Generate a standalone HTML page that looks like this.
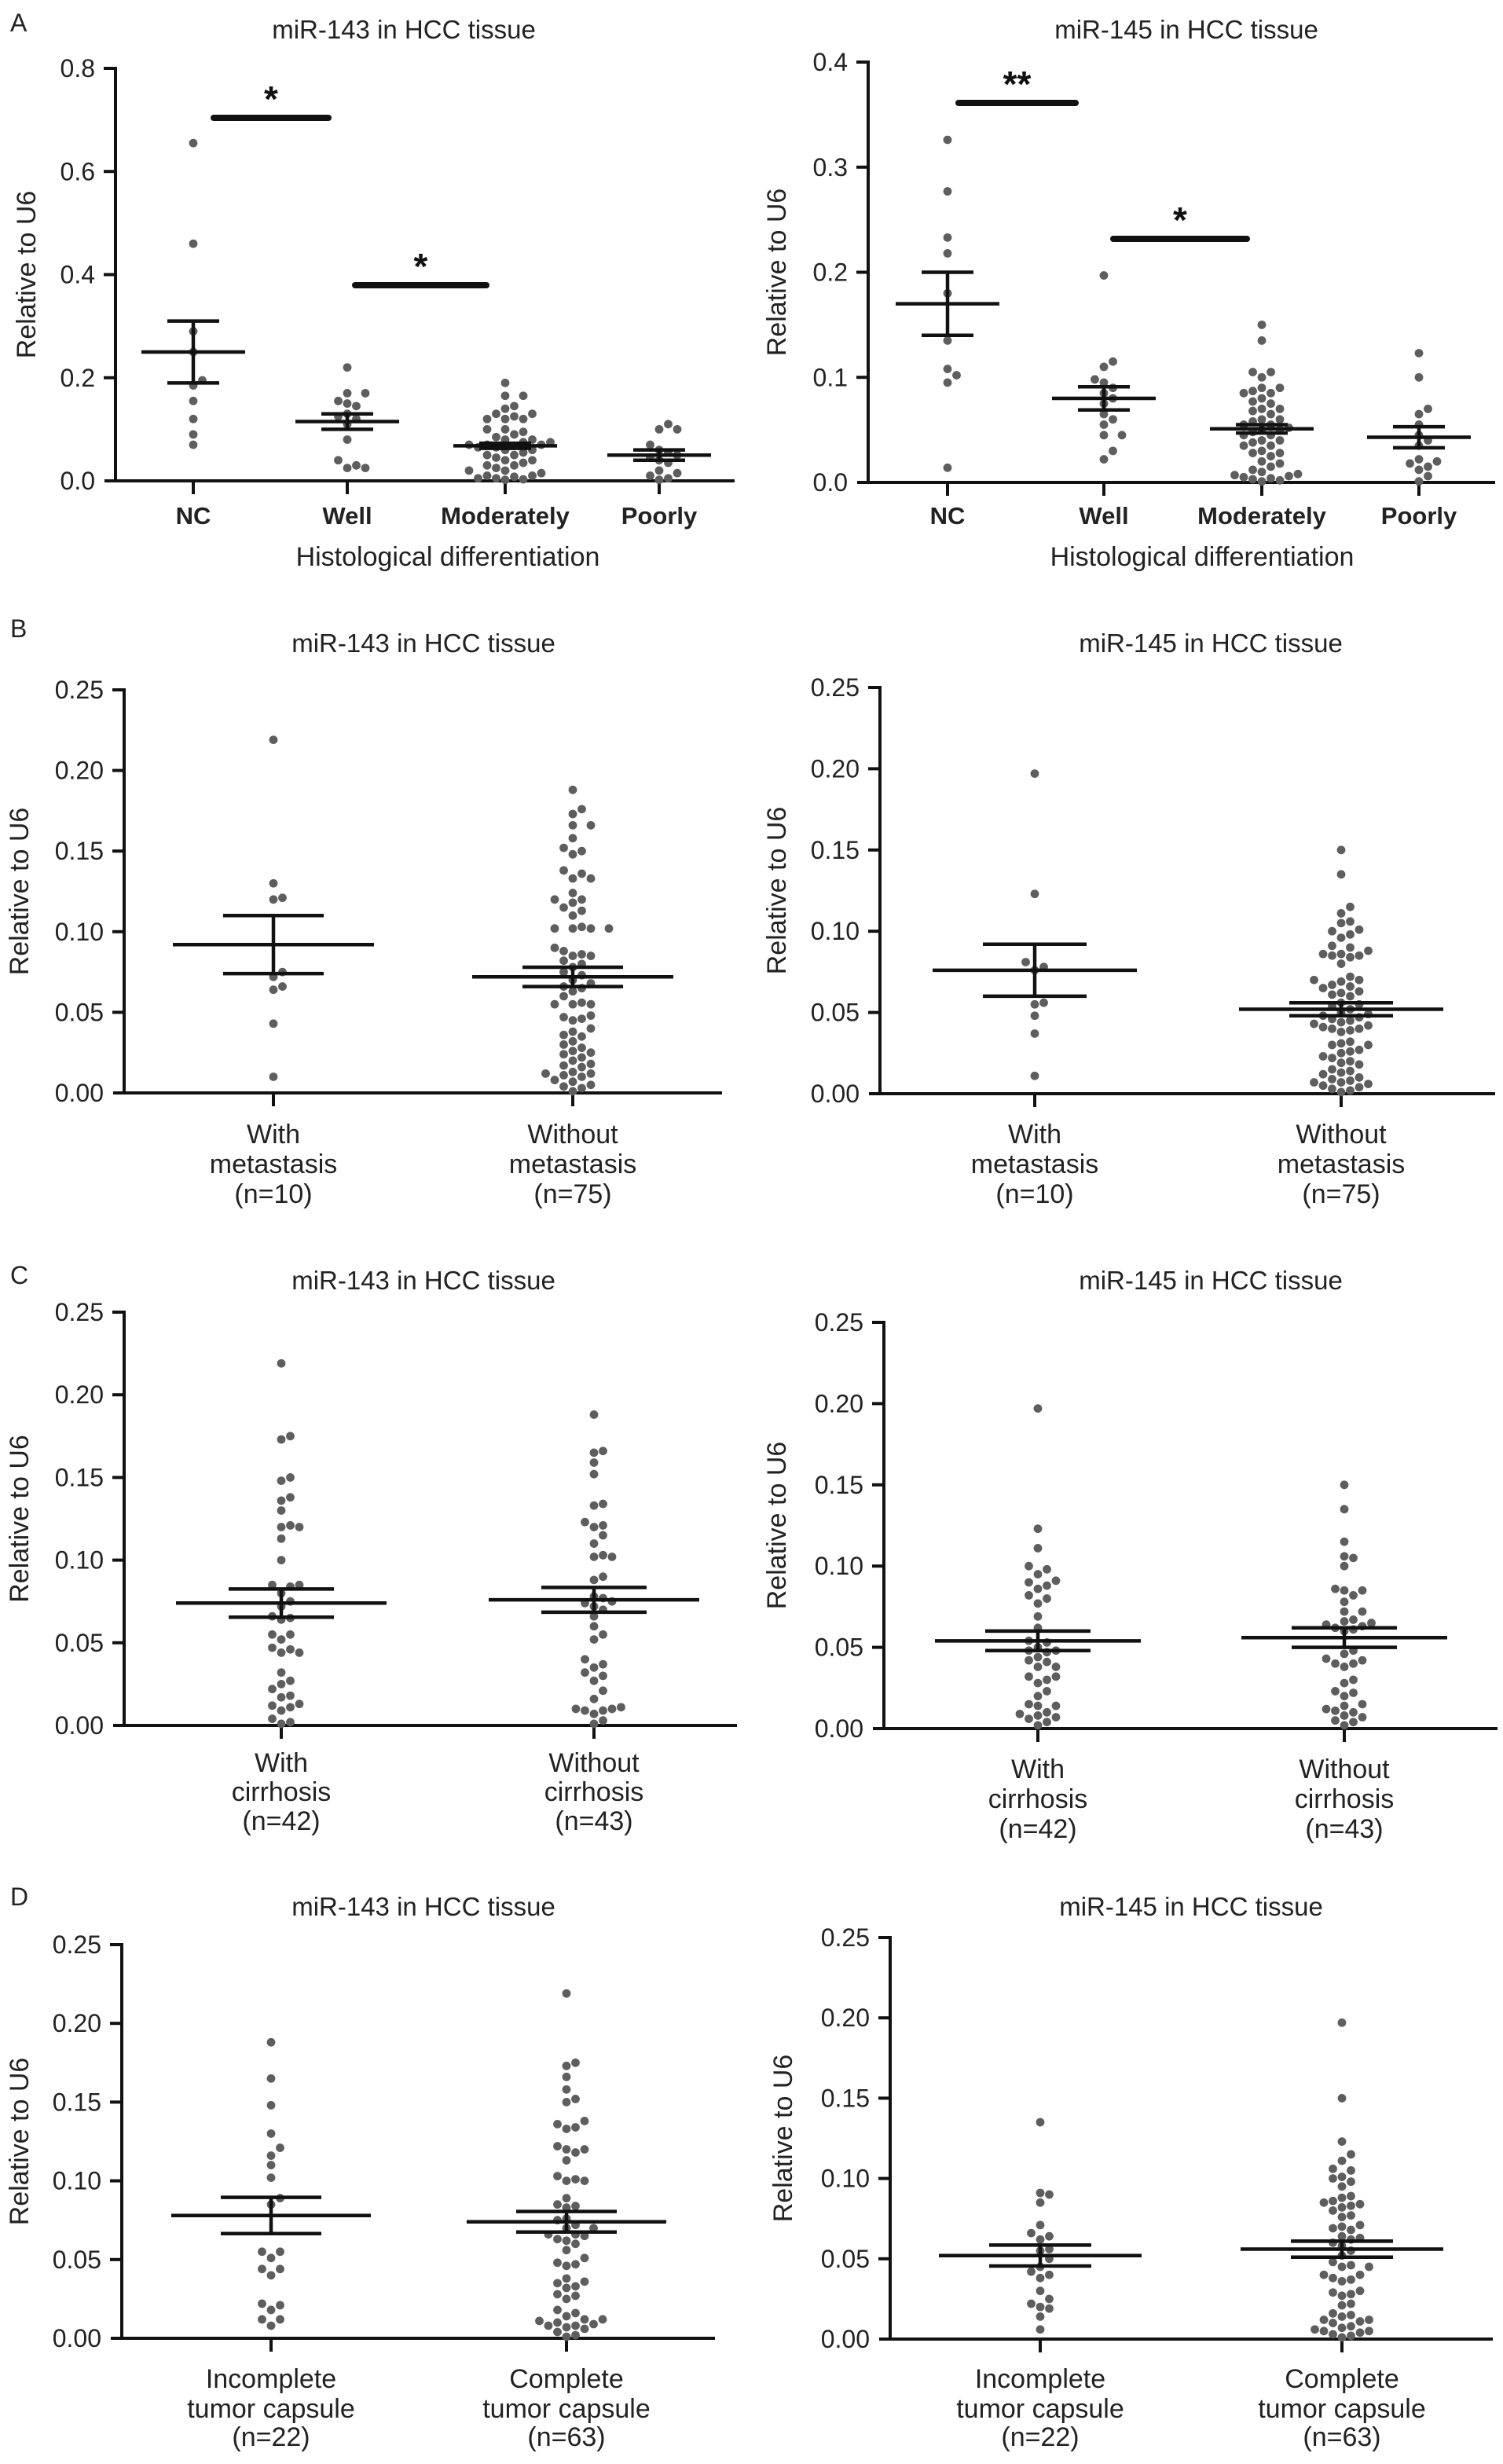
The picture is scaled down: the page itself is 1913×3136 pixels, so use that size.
<!DOCTYPE html>
<html><head><meta charset="utf-8"><style>
html,body{margin:0;padding:0;background:#fff;}
svg{display:block;font-family:"Liberation Sans",Arial,sans-serif;}
</style></head><body>
<svg id="fig" width="1913" height="3136" viewBox="0 0 1913 3136" xmlns="http://www.w3.org/2000/svg">
<rect width="1913" height="3136" fill="#fff"/>
<text x="13" y="40" font-size="32" fill="#222">A</text>
<text x="13" y="811" font-size="32" fill="#222">B</text>
<text x="13" y="1634" font-size="32" fill="#222">C</text>
<text x="13" y="2425" font-size="32" fill="#222">D</text>
</svg>
<script>
// ---- data ----
const catsA = ["NC","Well","Moderately","Poorly"];
const ticksA143 = [0,0.2,0.4,0.6,0.8];
const ticksA145 = [0,0.1,0.2,0.3,0.4];
const ticks025 = [0,0.05,0.10,0.15,0.20,0.25];

const a143NC = [0.655,0.46,0.29,0.25,0.195,0.185,0.155,0.12,0.09,0.07];
const a143Well = [0.22,0.17,0.17,0.155,0.15,0.145,0.13,0.125,0.12,0.11,0.08,0.04,0.03,0.025,0.025];
const a143Mod = [0.19,0.165,0.165,0.145,0.14,0.13,0.13,0.125,0.12,0.12,0.12,0.1,0.1,0.095,0.09,0.085,0.08,0.08,0.075,0.075,0.07,0.07,0.07,0.068,0.065,0.065,0.06,0.06,0.055,0.05,0.05,0.045,0.04,0.04,0.035,0.03,0.03,0.025,0.02,0.02,0.015,0.01,0.01,0.008,0.005,0.005,0.003,0.002];
const a143Poor = [0.11,0.1,0.1,0.07,0.06,0.055,0.05,0.045,0.04,0.035,0.02,0.015,0.01,0.005,0.002];
const a143Mean = [0.25,0.115,0.068,0.05];
const a143Se = [0.06,0.015,0.005,0.01];

const a145NC = [0.326,0.277,0.233,0.218,0.18,0.135,0.108,0.102,0.095,0.014];
const a145Well = [0.197,0.115,0.11,0.098,0.095,0.09,0.085,0.08,0.075,0.065,0.06,0.055,0.045,0.045,0.03,0.022];
const a145Mod = [0.15,0.135,0.105,0.105,0.1,0.09,0.09,0.087,0.085,0.085,0.08,0.077,0.075,0.07,0.07,0.068,0.065,0.06,0.06,0.058,0.055,0.055,0.052,0.05,0.05,0.048,0.045,0.045,0.04,0.04,0.038,0.035,0.035,0.03,0.028,0.028,0.025,0.02,0.018,0.015,0.012,0.01,0.008,0.007,0.006,0.005,0.004,0.003,0.002,0.001];
const a145Poor = [0.123,0.1,0.07,0.065,0.055,0.045,0.04,0.035,0.022,0.02,0.018,0.015,0.012,0.006,0.001];
const a145Mean = [0.17,0.08,0.051,0.043];
const a145Se = [0.03,0.011,0.004,0.01];

const b143With = [0.219,0.13,0.121,0.12,0.075,0.072,0.066,0.064,0.043,0.01];
const b143Without = [0.188,0.176,0.173,0.166,0.166,0.158,0.152,0.15,0.148,0.138,0.136,0.133,0.133,0.124,0.12,0.12,0.118,0.115,0.113,0.11,0.103,0.102,0.102,0.102,0.102,0.09,0.088,0.086,0.085,0.085,0.082,0.08,0.078,0.075,0.073,0.07,0.068,0.066,0.065,0.063,0.06,0.056,0.055,0.055,0.055,0.048,0.047,0.046,0.045,0.04,0.038,0.036,0.035,0.032,0.03,0.028,0.026,0.025,0.024,0.022,0.02,0.018,0.017,0.016,0.013,0.012,0.012,0.011,0.01,0.008,0.007,0.005,0.004,0.003,0.001];
const b143Mean = [0.092,0.072];
const b143Se = [0.018,0.006];

const b145With = [0.197,0.123,0.081,0.078,0.076,0.056,0.055,0.048,0.037,0.011];
const b145Without = [0.15,0.135,0.115,0.111,0.106,0.105,0.101,0.1,0.098,0.096,0.091,0.09,0.088,0.086,0.086,0.085,0.085,0.084,0.08,0.072,0.07,0.07,0.069,0.067,0.066,0.065,0.063,0.062,0.061,0.06,0.056,0.055,0.054,0.052,0.05,0.049,0.048,0.047,0.046,0.045,0.044,0.043,0.042,0.041,0.04,0.04,0.039,0.038,0.032,0.031,0.03,0.03,0.027,0.026,0.025,0.023,0.022,0.02,0.019,0.018,0.015,0.014,0.013,0.012,0.01,0.009,0.008,0.007,0.007,0.006,0.005,0.004,0.003,0.002,0.001];
const b145Mean = [0.076,0.052];
const b145Se = [0.016,0.004];

const c143With = [0.219,0.175,0.173,0.15,0.148,0.138,0.136,0.13,0.121,0.12,0.12,0.113,0.1,0.085,0.085,0.084,0.08,0.075,0.072,0.066,0.065,0.064,0.055,0.055,0.052,0.047,0.046,0.044,0.044,0.032,0.027,0.025,0.022,0.018,0.017,0.013,0.012,0.011,0.009,0.004,0.002,0.001];
const c143Without = [0.188,0.166,0.165,0.159,0.152,0.134,0.133,0.123,0.121,0.12,0.115,0.11,0.103,0.102,0.102,0.09,0.088,0.078,0.077,0.075,0.074,0.072,0.07,0.066,0.06,0.055,0.052,0.04,0.037,0.035,0.032,0.03,0.027,0.021,0.016,0.011,0.01,0.01,0.009,0.009,0.007,0.003,0.001];
const c143Mean = [0.074,0.076];
const c143Se = [0.0085,0.0075];

const c145With = [0.197,0.123,0.111,0.1,0.098,0.095,0.091,0.09,0.088,0.086,0.082,0.08,0.077,0.069,0.062,0.054,0.053,0.05,0.048,0.048,0.047,0.044,0.042,0.041,0.038,0.038,0.032,0.032,0.03,0.028,0.023,0.02,0.015,0.014,0.014,0.01,0.009,0.008,0.007,0.006,0.004,0.002];
const c145Without = [0.15,0.135,0.115,0.106,0.105,0.1,0.086,0.085,0.085,0.082,0.078,0.072,0.072,0.067,0.066,0.065,0.064,0.063,0.062,0.061,0.06,0.048,0.046,0.043,0.042,0.04,0.04,0.038,0.03,0.028,0.023,0.022,0.02,0.015,0.014,0.012,0.011,0.01,0.008,0.007,0.005,0.004,0.002];
const c145Mean = [0.054,0.056];
const c145Se = [0.006,0.006];

const d143Inc = [0.188,0.165,0.148,0.13,0.121,0.116,0.11,0.102,0.089,0.085,0.055,0.055,0.051,0.044,0.044,0.04,0.022,0.021,0.018,0.012,0.012,0.008];
const d143Comp = [0.219,0.175,0.173,0.166,0.158,0.152,0.15,0.138,0.136,0.134,0.133,0.122,0.12,0.12,0.118,0.113,0.103,0.101,0.1,0.1,0.089,0.085,0.084,0.083,0.076,0.075,0.072,0.07,0.07,0.066,0.066,0.065,0.063,0.062,0.06,0.056,0.051,0.048,0.047,0.046,0.038,0.036,0.035,0.033,0.032,0.028,0.027,0.025,0.018,0.016,0.014,0.012,0.012,0.011,0.01,0.009,0.008,0.008,0.007,0.006,0.004,0.002,0.001];
const d143Mean = [0.078,0.074];
const d143Se = [0.0115,0.0065];

const d145Inc = [0.135,0.091,0.09,0.085,0.071,0.066,0.064,0.062,0.056,0.055,0.05,0.045,0.042,0.04,0.038,0.03,0.025,0.022,0.02,0.019,0.014,0.006];
const d145Comp = [0.197,0.15,0.123,0.115,0.111,0.106,0.105,0.101,0.1,0.098,0.095,0.089,0.088,0.086,0.085,0.084,0.083,0.082,0.08,0.077,0.076,0.071,0.07,0.069,0.068,0.064,0.063,0.062,0.06,0.058,0.055,0.052,0.048,0.046,0.045,0.045,0.04,0.04,0.038,0.037,0.036,0.03,0.029,0.028,0.027,0.022,0.021,0.016,0.015,0.014,0.012,0.012,0.011,0.01,0.008,0.007,0.006,0.005,0.005,0.004,0.003,0.002,0.001];
const d145Mean = [0.052,0.056];
const d145Se = [0.0065,0.005];

const labelsB = [["With","metastasis","(n=10)"],["Without","metastasis","(n=75)"]];
const labelsC = [["With","cirrhosis","(n=42)"],["Without","cirrhosis","(n=43)"]];
const labelsD = [["Incomplete","tumor capsule","(n=22)"],["Complete","tumor capsule","(n=63)"]];

// ---- drawing ----
const NS="http://www.w3.org/2000/svg";
const svg=document.getElementById('fig');
function mk(tag,attrs,parent){const e=document.createElementNS(NS,tag);for(const k in attrs)e.setAttribute(k,attrs[k]);(parent||svg).appendChild(e);return e;}
function txt(s,attrs,parent){const e=mk('text',attrs,parent);e.textContent=s;return e;}

function panel(p){
  const g=mk('g',{});
  
  
  const max=p.ticks[p.ticks.length-1];
  const y=v=>p.y0-(v/max)*(p.y0-p.yTop);
  const xs=p.cx;
  const t=txt(p.title,{x:p.titleX,y:p.titleY,'font-size':33,'text-anchor':'middle',fill:'#222'},g);
  
  
  const ya=mk('line',{x1:p.ax,y1:p.yTop-2,x2:p.ax,y2:p.y0+2,stroke:'#111','stroke-width':4},g);
  
  
  const xa=mk('line',{x1:p.ax-14,y1:p.y0,x2:p.xEnd,y2:p.y0,stroke:'#111','stroke-width':4},g);
  
  
  p.ticks.forEach((tv,i)=>{
    if(i>0){const tk=mk('line',{x1:p.ax-15,y1:y(tv),x2:p.ax,y2:y(tv),stroke:'#111','stroke-width':4},g);
    
    }
    const tl=txt(tv.toFixed(p.dec),{x:p.ax-26,y:y(tv)+11,'font-size':32,'text-anchor':'end',fill:'#222'},g);
    
    
  });
  const yt=txt('Relative to U6',{x:0,y:0,'font-size':34,'text-anchor':'middle',fill:'#222',transform:`translate(${p.ytX},${(p.y0+p.yTop)/2}) rotate(-90)`},g);
  
  
  const r=5.4, dx=11.5;
  p.groups.forEach((vals,gi)=>{
    const cx=xs[gi];
    const tk=mk('line',{x1:cx,y1:p.y0,x2:cx,y2:p.y0+17,stroke:'#111','stroke-width':4},g);
    
    
    const placed=[];
    const sorted=vals.slice().sort((a,b)=>a-b);
    sorted.forEach(v=>{
      const py=y(v);
      for(let k=0;k<60;k++){
        const off=(k%2?1:-1)*Math.ceil(k/2)*dx;
        const px=cx+off;
        if(placed.every(q=>Math.hypot(q[0]-px,q[1]-py)>=2*r+0.8)){placed.push([px,py]);break;}
      }
    });
    placed.forEach(q=>{
      const c=mk('circle',{cx:q[0],cy:q[1],r:r,fill:'#5e5e5e'},g);
      
      
    });
    const m=p.mean[gi], s=p.se[gi];
    const mh=p.meanHalf, sh=p.seHalf;
    const ml=mk('line',{x1:cx-mh,y1:y(m),x2:cx+mh,y2:y(m),stroke:'#111','stroke-width':4.5},g);
    
    
    const eb=mk('path',{d:`M${cx-sh},${y(m+s)}H${cx+sh}M${cx-sh},${y(m-s)}H${cx+sh}M${cx},${y(m+s)}V${y(m-s)}`,stroke:'#111','stroke-width':4.5,fill:'none'},g);
    
    
    p.labels[gi].forEach((line,li)=>{
      const cl=txt(line,{x:cx,y:p.labY[li],'font-size':p.bold?31:34,'font-weight':p.bold?'bold':'normal','text-anchor':'middle',fill:'#222'},g);
      
      
    });
  });
  if(p.xTitle){
    const xt=txt(p.xTitle,{x:p.xTitleX,y:p.xTitleY,'font-size':34,'text-anchor':'middle',fill:'#222'},g);
    
    
  }
  (p.sig||[]).forEach(sg=>{
    const b=mk('line',{x1:sg[0],y1:sg[2],x2:sg[1],y2:sg[2],stroke:'#111','stroke-width':8,'stroke-linecap':'round'},g);
    
    
    const st=txt(sg[3],{x:(sg[0]+sg[1])/2,y:sg[2]-8,'font-size':46,'font-weight':'bold','text-anchor':'middle',fill:'#111'},g);
    
    
  });
}

panel({name:'panel-a-mir143',title:'miR-143 in HCC tissue',titleX:514,titleY:49,ax:147,y0:612,yTop:87,xEnd:935,ticks:ticksA143,dec:1,ytX:45,
  cx:[246,442,643,839],groups:[a143NC,a143Well,a143Mod,a143Poor],mean:a143Mean,se:a143Se,meanHalf:66,seHalf:33,
  labels:catsA.map(c=>[c]),labY:[667],bold:true,xTitle:'Histological differentiation',xTitleX:570,xTitleY:720,
  sig:[[272,418,150,'*'],[452,619,363,'*']]});
panel({name:'panel-a-mir145',title:'miR-145 in HCC tissue',titleX:1510,titleY:49,ax:1105,y0:614,yTop:79,xEnd:1903,ticks:ticksA145,dec:1,ytX:1000,
  cx:[1206,1405,1606,1806],groups:[a145NC,a145Well,a145Mod,a145Poor],mean:a145Mean,se:a145Se,meanHalf:66,seHalf:33,
  labels:catsA.map(c=>[c]),labY:[667],bold:true,xTitle:'Histological differentiation',xTitleX:1530,xTitleY:720,
  sig:[[1220,1369,131,'**'],[1417,1587,304,'*']]});
panel({name:'panel-b-mir143',title:'miR-143 in HCC tissue',titleX:539,titleY:830,ax:158,y0:1391,yTop:878,xEnd:919,ticks:ticks025,dec:2,ytX:36,
  cx:[348,729],groups:[b143With,b143Without],mean:b143Mean,se:b143Se,meanHalf:128,seHalf:64,
  labels:labelsB,labY:[1455,1493,1531]});
panel({name:'panel-b-mir145',title:'miR-145 in HCC tissue',titleX:1541,titleY:830,ax:1120,y0:1392,yTop:875,xEnd:1903,ticks:ticks025,dec:2,ytX:1000,
  cx:[1317,1707],groups:[b145With,b145Without],mean:b145Mean,se:b145Se,meanHalf:130,seHalf:66,
  labels:labelsB,labY:[1455,1493,1531]});
panel({name:'panel-c-mir143',title:'miR-143 in HCC tissue',titleX:539,titleY:1641,ax:158,y0:2196,yTop:1670,xEnd:938,ticks:ticks025,dec:2,ytX:36,
  cx:[358,756],groups:[c143With,c143Without],mean:c143Mean,se:c143Se,meanHalf:134,seHalf:67,
  labels:labelsC,labY:[2255,2292,2329]});
panel({name:'panel-c-mir145',title:'miR-145 in HCC tissue',titleX:1541,titleY:1641,ax:1125,y0:2200,yTop:1683,xEnd:1906,ticks:ticks025,dec:2,ytX:1000,
  cx:[1321,1711],groups:[c145With,c145Without],mean:c145Mean,se:c145Se,meanHalf:131,seHalf:67,
  labels:labelsC,labY:[2263,2301,2339]});
panel({name:'panel-d-mir143',title:'miR-143 in HCC tissue',titleX:539,titleY:2438,ax:155,y0:2976,yTop:2475,xEnd:910,ticks:ticks025,dec:2,ytX:36,
  cx:[345,721],groups:[d143Inc,d143Comp],mean:d143Mean,se:d143Se,meanHalf:127,seHalf:64,
  labels:labelsD,labY:[3039,3077,3113]});
panel({name:'panel-d-mir145',title:'miR-145 in HCC tissue',titleX:1516,titleY:2438,ax:1133,y0:2977,yTop:2466,xEnd:1900,ticks:ticks025,dec:2,ytX:1008,
  cx:[1324,1708],groups:[d145Inc,d145Comp],mean:d145Mean,se:d145Se,meanHalf:129,seHalf:65,
  labels:labelsD,labY:[3039,3077,3113]});
</script>
</body></html>
